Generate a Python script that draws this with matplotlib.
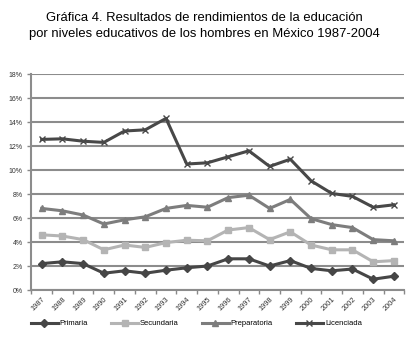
import matplotlib.pyplot as plt
import numpy as np

years = ['1987', '1988', '1989', '1990', '1991', '1992', '1993', '1994', '1995',
         '1996', '1997', '1998', '1999', '2000', '2001', '2002', '2003', '2004']
primaria = [2.2, 2.35, 2.2, 1.4, 1.6, 1.4, 1.65, 1.85, 2.0,
            2.6, 2.6, 2.0, 2.45, 1.8, 1.6, 1.75, 0.9, 1.15]
secundaria = [4.6, 4.5, 4.2, 3.35, 3.75, 3.55, 3.95, 4.15, 4.1,
              5.0, 5.2, 4.2, 4.85, 3.75, 3.35, 3.35, 2.35, 2.45]
preparatoria = [6.8, 6.6, 6.25, 5.5, 5.85, 6.1, 6.8, 7.05, 6.9,
                7.7, 7.9, 6.8, 7.55, 5.95, 5.45, 5.2, 4.2, 4.1]
licenciada = [12.55, 12.6, 12.4, 12.3, 13.25, 13.35, 14.3, 10.5, 10.6,
              11.1, 11.6, 10.3, 10.9, 9.1, 8.05, 7.8, 6.9, 7.1]

plt.rcParams['font.family'] = ['Liberation Sans', 'DejaVu Sans']

fig = plt.figure(figsize=(4.09, 3.38), dpi=100)
ax = fig.add_axes([0.0765, 0.142, 0.912, 0.639])

x = np.arange(len(years))
ax.plot(x, primaria, color='#464646', lw=2.2, marker='D', ms=4, label='Primaria')
ax.plot(x, secundaria, color='#b4b4b4', lw=2.2, marker='s', ms=5, label='Secundaria')
ax.plot(x, preparatoria, color='#7d7d7d', lw=2.2, marker='^', ms=5, label='Preparatoria')
ax.plot(x, licenciada, color='#484848', lw=2.2, marker='x', ms=5, mew=1,
        label='Licenciada')

ax.set_xlim(-0.5, len(years) - 0.5)
ax.set_ylim(0, 18)
yt = np.arange(0, 19, 2)
ax.set_yticks(yt)
ax.set_yticklabels([f'{v}%' for v in yt], fontsize=5, color='#333333')
ax.set_xticks(x)
ax.set_xticklabels(years, rotation=45, fontsize=5.3, color='#333333',
                   ha='right', rotation_mode='anchor')
ax.set_xticks(np.arange(-0.5, len(years)), minor=True)
ax.tick_params(axis='x', which='major', length=0, pad=4)
ax.tick_params(axis='x', which='minor', length=3, color='#888888', width=1)
ax.tick_params(axis='y', length=3, color='#888888', width=1, pad=3)
ax.grid(axis='y', color='#8c8c8c', lw=1.5)
ax.set_axisbelow(True)
for side in ['top', 'right']:
    ax.spines[side].set_visible(False)
for side in ['left', 'bottom']:
    ax.spines[side].set_color('#8c8c8c')
    ax.spines[side].set_linewidth(1.5)

fig.text(0.5, 0.965, 'Gráfica 4. Resultados de rendimientos de la educación\n'
         'por niveles educativos de los hombres en México 1987-2004',
         ha='center', va='top', fontsize=9.4, linespacing=1.5)

fig.legend(loc='center', bbox_to_anchor=(0.48, 0.042), ncol=4, frameon=False,
           fontsize=5.5, handlelength=3.5, columnspacing=3, handletextpad=0.3)

fig.savefig('out.png', dpi=100)
